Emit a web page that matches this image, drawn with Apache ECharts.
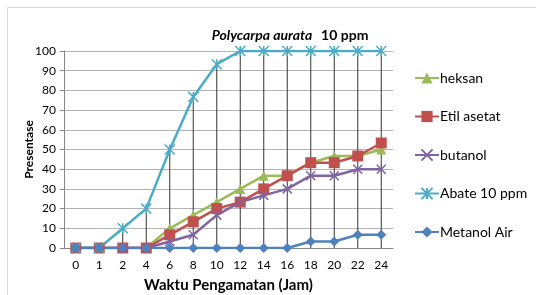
<!DOCTYPE html>
<html>
<head>
<meta charset="utf-8">
<script src="https://cdn.jsdelivr.net/npm/echarts@6/dist/echarts.min.js"></script>
<style>
  html, body { margin: 0; padding: 0; background: #fff; }
  #chart { width: 536px; height: 295px; }
</style>
</head>
<body>
<div id="chart"></div>
<script>
// jam pengamatan
const hours = ["0", "1", "2", "4", "6", "8", "10", "12", "14", "16", "18", "20", "22", "24"];

const heksan = [0, 0, 0, 0, 10, 16.7, 23.3, 30, 36.7, 36.7, 43.3, 46.7, 46.7, 50];
const etilAsetat = [0, 0, 0, 0, 6.7, 13.3, 20, 23.3, 30, 36.7, 43.3, 43.3, 46.7, 53.3];
const butanol = [0, 0, 0, 0, 3.3, 6.7, 16.7, 23.3, 26.7, 30, 36.7, 36.7, 40, 40];
const abate = [0, 0, 10, 20, 50, 76.7, 93.3, 100, 100, 100, 100, 100, 100, 100];
const metanolAir = [0, 0, 0, 0, 0, 0, 0, 0, 0, 0, 3.3, 3.3, 6.7, 6.7];

const font = "Lato, 'DejaVu Sans', sans-serif";
const crossPath = "path://M0,0L10,10M10,0L0,10";
const starPath = "path://M0,0L10,10M10,0L0,10M5,0L5,10";

const mkLine = (name, data, color, symbol, size, extra) => Object.assign({
  name: name,
  type: "line",
  data: data,
  symbol: symbol,
  symbolSize: size,
  lineStyle: { color: color, width: 2.5 },
  itemStyle: { color: color },
  z: 3
}, extra || {});

const chart = echarts.init(document.querySelector("#chart"));
chart.setOption({
  animation: false,
  textStyle: { fontFamily: font },
  title: {
    text: "{i|Polycarpa aurata}  {n|10 ppm}",
    left: 285,
    textAlign: "center",
    top: 21,
    textStyle: {
      rich: {
        i: { fontStyle: "italic", fontWeight: "bold", fontSize: 14, fontFamily: font, color: "#000" },
        n: { fontWeight: "bold", fontSize: 14, fontFamily: font, color: "#000" }
      }
    }
  },
  graphic: [{
    type: "rect",
    shape: { x: 7.5, y: 7.5, width: 540, height: 300 },
    style: { fill: "none", stroke: "#d9d9d9", lineWidth: 1 },
    silent: true
  }],
  legend: {
    orient: "vertical",
    left: 409,
    top: 66,
    itemGap: 24.5,
    itemWidth: 24,
    itemHeight: 14,
    data: ["heksan", "Etil asetat", "butanol", "Abate 10 ppm", "Metanol Air"],
    textStyle: { fontSize: 14, color: "#000", fontFamily: font, padding: [0, 0, 0, -4] }
  },
  grid: { left: 64, right: 143, top: 51, bottom: 47, outerBoundsMode: "none" },
  xAxis: {
    type: "category",
    data: hours,
    boundaryGap: true,
    name: "Waktu Pengamatan (Jam)",
    nameLocation: "middle",
    nameGap: 30,
    nameMoveOverlap: false,
    nameTextStyle: { fontWeight: "bold", fontSize: 15, color: "#000" },
    axisLine: { lineStyle: { color: "#868686" } },
    axisTick: { show: false },
    axisLabel: { color: "#000", fontSize: 12, margin: 11 }
  },
  yAxis: {
    type: "value",
    min: 0,
    max: 100,
    interval: 10,
    name: "Presentase",
    nameLocation: "middle",
    nameGap: 29,
    nameMoveOverlap: false,
    nameTextStyle: { fontWeight: "bold", fontSize: 12, color: "#000" },
    axisLine: { show: true, lineStyle: { color: "#868686" } },
    axisTick: { show: true, length: 4, lineStyle: { color: "#868686" } },
    axisLabel: { color: "#000", fontSize: 12, margin: 8 },
    splitLine: { lineStyle: { color: "#b3b3b3" } }
  },
  series: [
    {
      name: "drop",
      type: "bar",
      data: abate,
      barWidth: 1,
      itemStyle: { color: "#333" },
      z: 1,
      silent: true
    },
    mkLine("heksan", heksan, "#9BBB59", "triangle", 10),
    mkLine("Etil asetat", etilAsetat, "#C0504D", "rect", 11),
    mkLine("butanol", butanol, "#8064A2", crossPath, 9,
      { itemStyle: { color: "#8064A2", borderColor: "#8064A2", borderWidth: 1.5 } }),
    mkLine("Abate 10 ppm", abate, "#4BACC6", starPath, 10,
      { itemStyle: { color: "#4BACC6", borderColor: "#4BACC6", borderWidth: 1.5 } }),
    mkLine("Metanol Air", metanolAir, "#4F81BD", "diamond", 10)
  ]
});
</script>
</body>
</html>
